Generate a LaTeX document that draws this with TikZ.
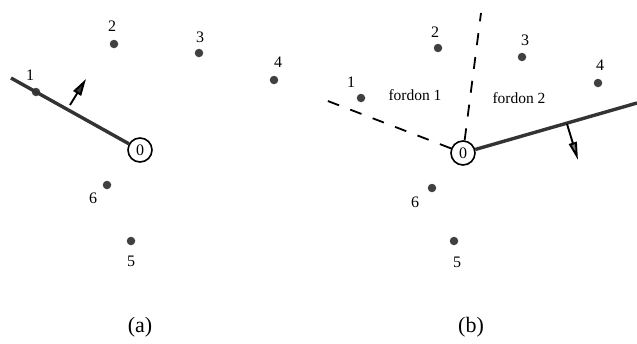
\documentclass[tikz,border=0pt]{standalone}
\usepackage{fontspec}
\setmainfont{Liberation Serif}
\usetikzlibrary{arrows.meta}
\begin{document}
\begin{tikzpicture}[x=1pt,y=-1pt,
  pt/.style={circle,fill=black!75,inner sep=0pt,minimum size=8.5pt},
  lbl/.style={inner sep=0pt,font=\fontsize{16}{16}\selectfont},
  origin/.style={circle,draw,line width=1.6pt,minimum size=24pt,inner sep=0pt,font=\fontsize{16}{16}\selectfont},
  wall/.style={line width=3.4pt,draw=black!80},
  region/.style={line width=1.8pt,dash pattern=on 12pt off 12pt},
  normal/.style={line width=1.9pt,-{Triangle[length=18pt,width=8pt,fill=black!55]}},
  zone/.style={inner sep=0pt,font=\fontsize{15.5}{15.5}\selectfont},
  captext/.style={inner sep=0pt,font=\fontsize{22}{22}\selectfont}]
\useasboundingbox (0,0) rectangle (637,343);
% ---------- (a) ----------
\node[pt] (a1) at (36,92) {};
\node[pt] (a2) at (114,44) {};
\node[pt] (a3) at (199,53) {};
\node[pt] (a4) at (274,80) {};
\node[pt] (a5) at (131,241) {};
\node[pt] (a6) at (107,185) {};
\node[lbl] (la1) at (30,75) {1};
\node[lbl] (la2) at (112,26) {2};
\node[lbl] (la3) at (200,37) {3};
\node[lbl] (la4) at (278,62) {4};
\node[lbl] (la5) at (131,261) {5};
\node[lbl] (la6) at (93,198) {6};
\node[origin] (a0) at (140,150) {0};
\coordinate (aw) at (11,78);
\draw[wall] (aw) -- (a0);
\coordinate (an1) at (70,105);
\coordinate (an2) at (86,79);
\draw[line width=1.9pt,-{Triangle[length=17pt,width=9pt,fill=black!80]}] (an1) -- (an2);
\node[captext] (capa) at (140,327) {(a)};
% ---------- (b) ----------
\node[pt] (b1) at (361,98) {};
\node[pt] (b2) at (438,48) {};
\node[pt] (b3) at (522,57) {};
\node[pt] (b4) at (598,83) {};
\node[pt] (b5) at (454,241) {};
\node[pt] (b6) at (432,188) {};
\node[lbl] (lb1) at (351,82) {1};
\node[lbl] (lb2) at (435,32) {2};
\node[lbl] (lb3) at (525,40) {3};
\node[lbl] (lb4) at (600,65) {4};
\node[lbl] (lb5) at (457,262) {5};
\node[lbl] (lb6) at (415,202) {6};
\node[origin] (b0) at (463,153) {0};
\coordinate (bd1) at (320,98);
\coordinate (bd2) at (481,13);
\coordinate (bw) at (637,103);
\draw[region] (b0) -- (bd1);
\draw[region] (b0) -- (bd2);
\draw[wall] (b0) -- (bw);
\coordinate (bn1) at (567,124);
\coordinate (bn2) at (578,160);
\draw[normal] (bn1) -- (bn2);
\node[zone] (f1) at (415,95) {fordon 1};
\node[zone] (f2) at (519,98) {fordon 2};
\node[captext] (capb) at (471,327) {(b)};
\end{tikzpicture}
\end{document}
